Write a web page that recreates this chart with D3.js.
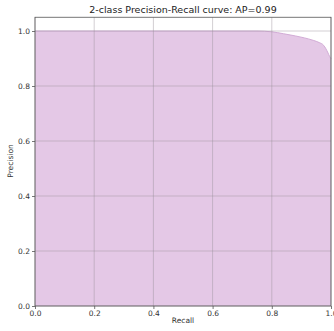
<!DOCTYPE html>
<html><head><meta charset="utf-8">
<script src="https://cdn.jsdelivr.net/npm/d3@7"></script>
<style>body{margin:0;background:#fff}svg{display:block}text{font-family:"DejaVu Sans",sans-serif}</style>
</head><body><svg id="c" width="334" height="331"></svg>
<script>
const recall =    [0, 0.75, 0.80, 0.84, 0.88, 0.91, 0.94, 0.96, 0.975, 0.983, 0.99, 0.995, 1.0];
const precision = [1, 1, 0.997, 0.99, 0.982, 0.975, 0.966, 0.958, 0.948, 0.935, 0.92, 0.908, 0.90];
const xTicks = [0, 0.2, 0.4, 0.6, 0.8, 1.0];
const yTicks = [0, 0.2, 0.4, 0.6, 0.8, 1.0];
const title = "2-class Precision-Recall curve: AP=0.99";

const svg = d3.select("#c");
const x = d3.scaleLinear().domain([0, 1]).range([35, 331]);
const y = d3.scaleLinear().domain([0, 1.05]).range([306, 17.25]);
const pts = recall.map((r, i) => ({r, p: precision[i]}));

// fill
svg.append("path").datum(pts)
  .attr("d", d3.area().x(d => x(d.r)).y0(y(0)).y1(d => y(d.p)).curve(d3.curveMonotoneX))
  .attr("fill", "#e4c8e6");
svg.append("path").datum(pts)
  .attr("d", d3.line().x(d => x(d.r)).y(d => y(d.p)).curve(d3.curveMonotoneX))
  .attr("fill", "none").attr("stroke", "#d2acd6").attr("stroke-width", 1);

// grid
const g = svg.append("g");
xTicks.forEach(t => g.append("line").attr("x1", x(t)).attr("x2", x(t)).attr("y1", y(1.05)).attr("y2", y(0))
  .attr("stroke", "#9a909a").attr("stroke-opacity", 0.55).attr("stroke-width", 0.8));
yTicks.forEach(t => g.append("line").attr("y1", y(t)).attr("y2", y(t)).attr("x1", x(0)).attr("x2", x(1))
  .attr("stroke", "#9a909a").attr("stroke-opacity", 0.55).attr("stroke-width", 0.8));

// spines
svg.append("rect").attr("x", x(0)).attr("y", y(1.05)).attr("width", x(1) - x(0)).attr("height", y(0) - y(1.05))
  .attr("fill", "none").attr("stroke", "#555").attr("stroke-width", 0.8);

// axes
const xa = svg.append("g").attr("transform", `translate(0,${y(0)})`)
  .call(d3.axisBottom(x).tickValues(xTicks).tickFormat(d3.format(".1f")).tickSize(3).tickPadding(1.5));
const ya = svg.append("g").attr("transform", `translate(${x(0)},0)`)
  .call(d3.axisLeft(y).tickValues(yTicks).tickFormat(d3.format(".1f")).tickSize(3).tickPadding(2));
[xa, ya].forEach(a => {
  a.select(".domain").remove();
  a.selectAll("line").attr("stroke", "#555").attr("stroke-width", 0.8);
  a.selectAll("text").attr("font-size", 7.5).attr("fill", "#333").attr("font-family", "DejaVu Sans");
});

svg.append("text").attr("x", 183).attr("y", 323).attr("text-anchor", "middle")
  .attr("font-size", 7.5).attr("fill", "#333").text("Recall");
svg.append("text").attr("transform", "translate(13,161) rotate(-90)").attr("text-anchor", "middle")
  .attr("font-size", 7.5).attr("fill", "#333").text("Precision");
svg.append("text").attr("x", 183).attr("y", 13).attr("text-anchor", "middle")
  .attr("font-size", 9.5).attr("fill", "#222").text(title);
</script></body></html>
